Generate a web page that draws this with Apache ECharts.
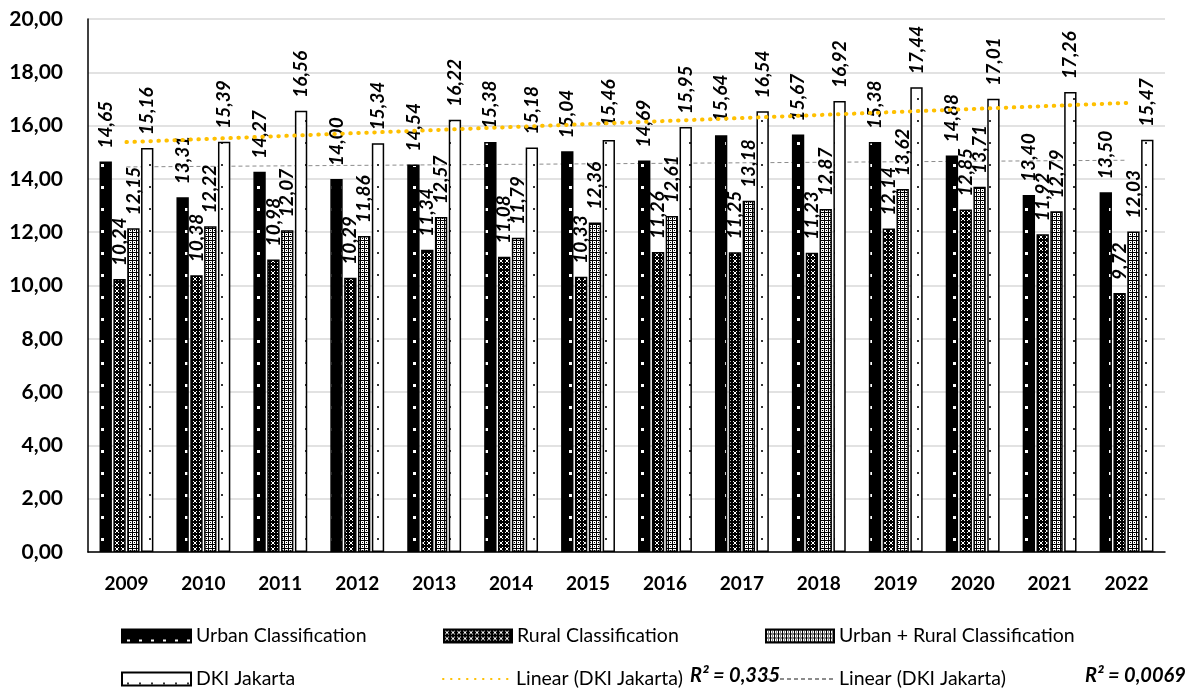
<!DOCTYPE html>
<html>
<head>
<meta charset="utf-8">
<script src="https://cdn.jsdelivr.net/npm/echarts@6/dist/echarts.min.js"></script>
<style>
  html, body { margin: 0; padding: 0; background: #fff; }
  #chart { width: 1189px; height: 689px; }
</style>
</head>
<body>
<div id="chart"></div>
<script>
// Years and values per classification
const years = ['2009','2010','2011','2012','2013','2014','2015','2016','2017','2018','2019','2020','2021','2022'];
const urban = [14.65,13.31,14.27,14.00,14.54,15.38,15.04,14.69,15.64,15.67,15.38,14.88,13.40,13.50];
const rural = [10.24,10.38,10.98,10.29,11.34,11.08,10.33,11.26,11.25,11.23,12.14,12.85,11.92,9.72];
const urbanRural = [12.15,12.22,12.07,11.86,12.57,11.79,12.36,12.61,13.18,12.87,13.62,13.71,12.79,12.03];
const dki = [15.16,15.39,16.56,15.34,16.22,15.18,15.46,15.95,16.54,16.92,17.44,17.01,17.26,15.47];
// Trend line endpoints (first and last year)
const trendDki = [15.38, 16.85];
const trendFlat = [14.45, 14.70];
const yTicks = [0, 2, 4, 6, 8, 10, 12, 14, 16, 18, 20];

const FONT = 'Lato, "Open Sans", sans-serif';
const fmt = v => Number(v).toFixed(2).replace('.', ',');

function tile(w, h, draw) {
  const c = document.createElement('canvas');
  c.width = w; c.height = h;
  const ctx = c.getContext('2d');
  draw(ctx);
  return c;
}
const patUrban = tile(12, 22, ctx => {
  ctx.fillStyle = '#000'; ctx.fillRect(0, 0, 12, 22);
  ctx.fillStyle = '#fff'; ctx.fillRect(5, 10, 3, 3);
});
const patRural = tile(6, 6, ctx => {
  ctx.fillStyle = '#000'; ctx.fillRect(0, 0, 6, 6);
  ctx.fillStyle = '#fff';
  [[1,1],[4,1],[2,2],[3,2],[2,3],[3,3],[1,4],[4,4]].forEach(p => ctx.fillRect(p[0], p[1], 1, 1));
});
const patUrbanRural = tile(4, 4, ctx => {
  ctx.fillStyle = '#fff'; ctx.fillRect(0, 0, 4, 4);
  ctx.fillStyle = '#000'; ctx.fillRect(0, 0, 4, 1); ctx.fillRect(0, 0, 1, 4);
  ctx.fillRect(2, 2, 1, 1);
});
const patDki = tile(12, 22, ctx => {
  ctx.fillStyle = '#fff'; ctx.fillRect(0, 0, 12, 22);
  ctx.fillStyle = '#333'; ctx.fillRect(5, 10, 2, 2);
});

function spanLine(ends) {
  const arr = years.map(() => null);
  arr[0] = ends[0];
  arr[arr.length - 1] = ends[1];
  return arr;
}

const valueLabel = {
  show: true,
  position: 'top',
  rotate: 90,
  align: 'left',
  verticalAlign: 'middle',
  distance: 13,
  formatter: p => fmt(p.value),
  fontFamily: FONT,
  fontSize: 19,
  fontWeight: 'bold',
  fontStyle: 'italic',
  color: '#000'
};

function barSeries(name, data, pattern) {
  return {
    name: name,
    type: 'bar',
    data: data,
    barGap: '12%',
    barCategoryGap: '30%',
    itemStyle: { color: { image: pattern, repeat: 'repeat' }, borderColor: '#000', borderWidth: 1.5 },
    label: valueLabel,
    emphasis: { disabled: true },
    z: 2
  };
}

const legendText = { fontFamily: FONT, fontSize: 19.5, color: '#000' };
function legendAt(name, left, top, width) {
  return {
    data: [name], left: left, top: top, padding: 0, itemGap: 0,
    itemWidth: width, itemHeight: 13, selectedMode: false,
    textStyle: legendText, formatter: n => n.trim()
  };
}

const chart = echarts.init(document.getElementById('chart'));
chart.setOption({
  animation: false,
  backgroundColor: '#fff',
  grid: { left: 88, right: 24, top: 19, bottom: 137, containLabel: false },
  xAxis: {
    type: 'category',
    data: years,
    axisLine: { lineStyle: { color: '#000', width: 1.5 } },
    axisTick: { show: false },
    axisLabel: { fontFamily: FONT, fontSize: 19, fontWeight: 'bold', color: '#000', margin: 22 }
  },
  yAxis: {
    type: 'value',
    min: yTicks[0],
    max: yTicks[yTicks.length - 1],
    interval: 2,
    axisLine: { show: true, lineStyle: { color: '#000', width: 1.5 } },
    axisTick: { show: false },
    splitLine: { lineStyle: { color: '#d9d9d9', width: 1.5 } },
    axisLabel: { fontFamily: FONT, fontSize: 21, fontWeight: 'bold', color: '#000', margin: 25, formatter: v => fmt(v) }
  },
  legend: [
    Object.assign(legendAt('Urban Classification', 121, 626, 69), { icon: 'rect' }),
    Object.assign(legendAt('Rural Classification', 443, 626, 68), { icon: 'rect' }),
    Object.assign(legendAt('Urban + Rural Classification', 765, 626, 68), { icon: 'rect' }),
    Object.assign(legendAt('DKI Jakarta', 121, 669, 69), { icon: 'rect' }),
    Object.assign(legendAt('Linear (DKI Jakarta)', 442, 669, 68), { itemStyle: { opacity: 0 } }),
    Object.assign(legendAt('Linear (DKI Jakarta) ', 765, 669, 68), { itemStyle: { opacity: 0 } })
  ],
  graphic: [
    { type: 'text', left: 690, top: 666, z: 10, style: { text: 'R² = 0,335', font: 'italic bold 20px ' + FONT, fill: '#000' } },
    { type: 'text', left: 1085, top: 666, style: { text: 'R² = 0,0069', font: 'italic bold 20px ' + FONT, fill: '#000' } }
  ],
  series: [
    barSeries('Urban Classification', urban, patUrban),
    barSeries('Rural Classification', rural, patRural),
    barSeries('Urban + Rural Classification', urbanRural, patUrbanRural),
    barSeries('DKI Jakarta', dki, patDki),
    {
      name: 'Linear (DKI Jakarta)',
      type: 'line',
      data: spanLine(trendDki),
      connectNulls: true,
      symbol: 'none',
      lineStyle: { color: '#FFC000', width: 4, type: [0.5, 7.5], cap: 'round' },
      itemStyle: { color: '#FFC000' },
      emphasis: { disabled: true },
      z: 3
    },
    {
      name: 'Linear (DKI Jakarta) ',
      type: 'line',
      data: spanLine(trendFlat),
      connectNulls: true,
      symbol: 'none',
      lineStyle: { color: '#8c8c8c', width: 1, type: [4, 3] },
      itemStyle: { color: '#8c8c8c' },
      emphasis: { disabled: true },
      z: 1
    }
  ]
});
</script>
</body>
</html>
